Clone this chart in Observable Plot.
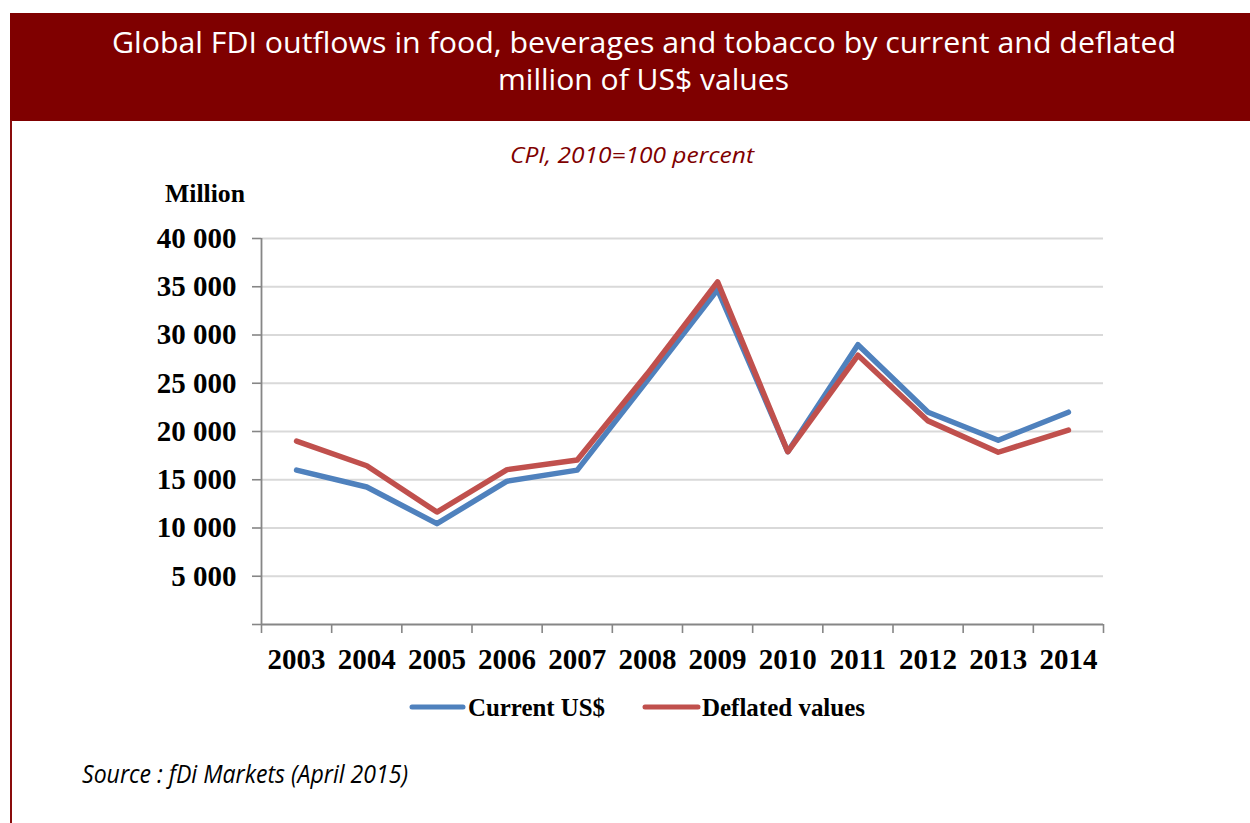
<!DOCTYPE html>
<html><head><meta charset="utf-8">
<script src="https://cdn.jsdelivr.net/npm/d3@7"></script>
<script src="https://cdn.jsdelivr.net/npm/@observablehq/plot@0.6"></script>
<style>
html,body{margin:0;padding:0;background:#fff;}
#wrap{position:relative;width:1250px;height:823px;overflow:hidden;background:#fff;}
#deco{position:absolute;left:0;top:0;z-index:2;pointer-events:none;}
#chart{position:absolute;left:0;top:170px;z-index:1;}
</style></head><body>
<div id="wrap"><div id="chart"></div><svg id="deco" width="1250" height="823"></svg></div>
<script>
// ---- data ----
const years = [2003, 2004, 2005, 2006, 2007, 2008, 2009, 2010, 2011, 2012, 2013, 2014];
const currentUSD = [16000, 14250, 10450, 14850, 16000, 25300, 34700, 17900, 29000, 22000, 19100, 22000];
const deflatedValues = [19000, 16450, 11650, 16050, 17050, 26000, 35500, 17900, 27900, 21100, 17850, 20150];
const seriesNames = ["Current US$", "Deflated values"];
const seriesColors = ["#4f81bd", "#c0504d"];
const yTicks = [0, 5000, 10000, 15000, 20000, 25000, 30000, 35000, 40000];
const titleLines = ["Global FDI outflows in food, beverages and tobacco by current and deflated", "million of US$ values"];
const subtitle = "CPI, 2010=100 percent";
const yUnit = "Million";
const source = "Source : fDi Markets (April 2015)";

// ---- chart ----
const data = years.flatMap((y, i) => [
  {year: y, value: currentUSD[i], series: seriesNames[0]},
  {year: y, value: deflatedValues[i], series: seriesNames[1]}
]);
const bounds = [...years.map(y => y - 0.5), years[years.length - 1] + 0.5];
const fmt = d => d3.format(",")(d).replace(/,/g, " ");
const serif = "'Liberation Serif', 'Times New Roman', serif";

const plot = Plot.plot({
  width: 1250, height: 514,
  marginLeft: 261, marginRight: 147, marginTop: 68, marginBottom: 60,
  style: {fontFamily: serif, fontWeight: "bold", fontSize: "29px", color: "#000", background: "none", overflow: "visible"},
  x: {type: "linear", domain: [bounds[0], bounds[bounds.length - 1]]},
  y: {domain: [yTicks[0], yTicks[yTicks.length - 1]]},
  color: {domain: seriesNames, range: seriesColors},
  marks: [
    Plot.gridY(yTicks.slice(1), {stroke: "#d9d9d9", strokeOpacity: 1, strokeWidth: 1.8}),
    Plot.axisY(yTicks, {tickSize: 9, tickPadding: 16, stroke: "#868686", strokeWidth: 1.6, tickFormat: d => d === 0 ? "" : fmt(d), label: null}),
    Plot.ruleX([bounds[0]], {stroke: "#868686", strokeWidth: 1.8}),
    Plot.ruleY([0], {stroke: "#868686", strokeWidth: 1.8}),
    Plot.axisX(bounds, {tickSize: 9, tickFormat: () => "", stroke: "#868686", strokeWidth: 1.6, label: null}),
    Plot.axisX(years, {tickSize: 0, tickPadding: 24, tickFormat: d => String(d), label: null}),
    Plot.line(data, {x: "year", y: "value", z: "series", stroke: "series", strokeWidth: 5.5, strokeLinejoin: "round", strokeLinecap: "round"})
  ]
});
document.getElementById("chart").appendChild(plot);

// ---- decorations: title band, subtitle, unit, legend, source ----
const svg = d3.select("#deco");
svg.append("rect").attr("x", 10).attr("y", 13).attr("width", 1240).attr("height", 108).attr("fill", "#7f0000");
svg.append("line").attr("x1", 11).attr("x2", 11).attr("y1", 120).attr("y2", 823).attr("stroke", "#8a0c0c").attr("stroke-width", 2);
const sans = "'Open Sans', 'Noto Sans', sans-serif";
function txt(s, x, y, size, opts = {}) {
  const t = svg.append("text").attr("x", x).attr("y", y).text(s)
    .attr("font-size", size).attr("font-family", opts.family || sans)
    .attr("fill", opts.fill || "#000");
  if (opts.weight) t.attr("font-weight", opts.weight);
  if (opts.italic) t.attr("font-style", "italic");
  if (opts.len) t.attr("textLength", opts.len).attr("lengthAdjust", "spacingAndGlyphs");
  return t;
}
txt(titleLines[0], 112, 53, 30, {fill: "#fff", len: 1064});
txt(titleLines[1], 498, 90, 30, {fill: "#fff", len: 291});
txt(subtitle, 510, 163, 22, {fill: "#7f0000", italic: true, len: 244});
txt(yUnit, 165, 202, 25, {family: serif, weight: "bold", len: 80});
const legendX = [[412, 463, 468, 137], [645, 698, 702, 163]];
seriesNames.forEach((name, i) => {
  const [a, b, tx, w] = legendX[i];
  svg.append("line").attr("x1", a).attr("x2", b).attr("y1", 707).attr("y2", 707)
    .attr("stroke", seriesColors[i]).attr("stroke-width", 5).attr("stroke-linecap", "round");
  txt(name, tx, 716, 25, {family: serif, weight: "bold", len: w});
});
txt(source, 82, 783, 25, {italic: true, len: 326});
</script>
</body></html>
